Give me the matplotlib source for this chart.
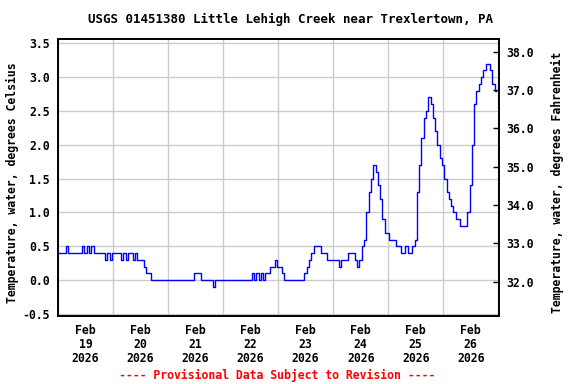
import numpy as np
import pandas as pd
import matplotlib
matplotlib.use('Agg')
import matplotlib.pyplot as plt
import matplotlib.dates as mdates
from matplotlib.ticker import FormatStrFormatter

plt.rcParams['font.family'] = 'DejaVu Sans Mono'
plt.rcParams['font.weight'] = 'bold'
plt.rcParams['axes.unicode_minus'] = False

title = "USGS 01451380 Little Lehigh Creek near Trexlertown, PA"
footer = "---- Provisional Data Subject to Revision ----"
ylabel_c = "Temperature, water, degrees Celsius"
ylabel_f = "Temperature, water, degrees Fahrenheit"

# hourly water temperature, degrees C
feb19 = [0.4, 0.4, 0.4, 0.4, 0.5, 0.4, 0.4, 0.4, 0.4, 0.4, 0.4, 0.5,
         0.4, 0.5, 0.4, 0.5, 0.4, 0.4, 0.4, 0.4, 0.4, 0.3, 0.4, 0.3]
feb20 = [0.4, 0.4, 0.4, 0.4, 0.3, 0.4, 0.3, 0.4, 0.4, 0.3, 0.4, 0.3,
         0.3, 0.3, 0.2, 0.1, 0.1, 0.0, 0.0, 0.0, 0.0, 0.0, 0.0, 0.0]
feb21 = [0.0, 0.0, 0.0, 0.0, 0.0, 0.0, 0.0, 0.0, 0.0, 0.0, 0.0, 0.0,
         0.1, 0.1, 0.1, 0.0, 0.0, 0.0, 0.0, 0.0, -0.1, 0.0, 0.0, 0.0]
feb22 = [0.0, 0.0, 0.0, 0.0, 0.0, 0.0, 0.0, 0.0, 0.0, 0.0, 0.0, 0.0,
         0.0, 0.1, 0.0, 0.1, 0.0, 0.1, 0.0, 0.1, 0.1, 0.2, 0.2, 0.3]
feb23 = [0.2, 0.2, 0.1, 0.0, 0.0, 0.0, 0.0, 0.0, 0.0, 0.0, 0.0, 0.0,
         0.1, 0.2, 0.3, 0.4, 0.5, 0.5, 0.5, 0.4, 0.4, 0.4, 0.3, 0.3]
feb24 = [0.3, 0.3, 0.3, 0.2, 0.3, 0.3, 0.3, 0.4, 0.4, 0.4, 0.3, 0.2,
         0.3, 0.5, 0.6, 1.0, 1.3, 1.5, 1.7, 1.6, 1.4, 1.2, 0.9, 0.7]
feb25 = [0.7, 0.6, 0.6, 0.6, 0.5, 0.5, 0.4, 0.4, 0.5, 0.4, 0.4, 0.5,
         0.6, 1.3, 1.7, 2.1, 2.4, 2.5, 2.7, 2.6, 2.4, 2.2, 2.0, 1.8]
feb26 = [1.7, 1.5, 1.3, 1.2, 1.1, 1.0, 0.9, 0.9, 0.8, 0.8, 0.8, 1.0,
         1.4, 2.0, 2.6, 2.8, 2.9, 3.0, 3.1, 3.2, 3.2, 3.1, 2.9, 2.8]

temps = feb19 + feb20 + feb21 + feb22 + feb23 + feb24 + feb25 + feb26
times = pd.date_range("2026-02-19 00:00", periods=len(temps), freq="h")

c_ticks = [-0.5, 0.0, 0.5, 1.0, 1.5, 2.0, 2.5, 3.0, 3.5]
f_ticks = [32, 33, 34, 35, 36, 37, 38]

fig = plt.figure(figsize=(5.76, 3.84), dpi=100)
ax = fig.add_axes([0.1007, 0.1771, 0.7661, 0.7206])

ax.plot(times, temps, color='#0000ff', linewidth=1.0, drawstyle='steps-mid', zorder=3)

ax.set_xlim(pd.Timestamp("2026-02-19 00:00"), pd.Timestamp("2026-02-27 00:28"))
ax.set_ylim(-0.53, 3.56)
ax.set_yticks(c_ticks)
ax.yaxis.set_major_formatter(FormatStrFormatter('%.1f'))

ax.xaxis.set_major_locator(mdates.HourLocator(byhour=12))
ax.xaxis.set_major_formatter(mdates.DateFormatter('%b\n%d\n%Y'))
ax.xaxis.set_minor_locator(mdates.DayLocator())

ax.grid(True, which='minor', axis='x', color='#cccccc', linewidth=1.0)
ax.grid(True, which='major', axis='y', color='#cccccc', linewidth=1.0)
ax.grid(False, which='major', axis='x')

ax.tick_params(axis='both', which='both', length=0, labelsize=8.3)
ax.tick_params(axis='y', pad=6)
ax.tick_params(axis='x', pad=6)
for lab in ax.get_xticklabels():
    lab.set_linespacing(1.1)

for s in ax.spines.values():
    s.set_linewidth(1.2)

ax2 = ax.twinx()
ax2.set_ylim(31.10, 38.33)
ax2.set_yticks(f_ticks)
ax2.yaxis.set_major_formatter(FormatStrFormatter('%.1f'))
ax2.tick_params(axis='y', direction='in', length=4, width=1, labelsize=8.3, pad=5)
for s in ax2.spines.values():
    s.set_linewidth(1.2)

fig.text(0.505, 0.9505, title, ha='center', va='center', fontsize=9)
fig.text(0.481, 0.0234, footer, ha='center', va='center', fontsize=8.3, color='#ff0000')
fig.text(0.021, 0.523, ylabel_c, rotation=90, ha='center', va='center', fontsize=8.3)
fig.text(0.967, 0.525, ylabel_f, rotation=90, ha='center', va='center', fontsize=8.3)

fig.savefig('out.png', dpi=100)
